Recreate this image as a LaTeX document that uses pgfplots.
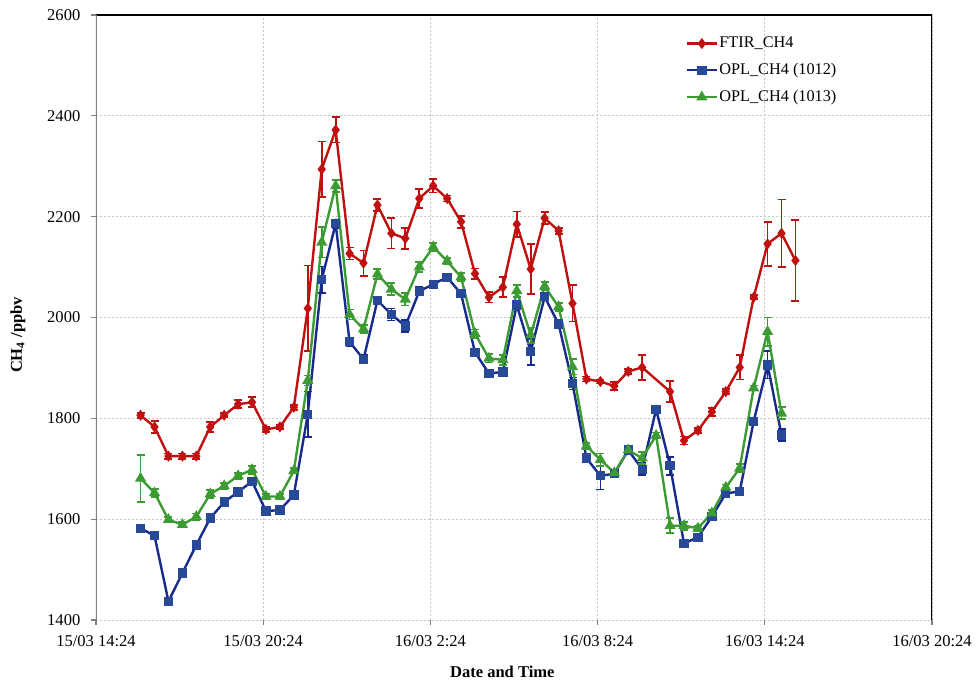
\documentclass[border=0pt]{standalone}
\usepackage{fontspec}
\setmainfont{Liberation Serif}
\usepackage{pgfplots}
\usepackage{pgfplotstable}
\usetikzlibrary{calc}
\pgfplotsset{compat=1.18}
\definecolor{cred}{RGB}{192,16,16}
\definecolor{cblue}{RGB}{24,42,140}
\definecolor{cbluem}{RGB}{40,72,152}
\definecolor{cgreen}{RGB}{60,155,50}

\pgfplotstableread{
x y e
1.6 1806 5
2.1 1783 12
2.6 1725 5
3.1 1725 5
3.6 1725 5
4.1 1783 10
4.6 1806 4
5.1 1828 8
5.6 1832 10
6.1 1778 5
6.6 1783 4
7.1 1822 5
7.6 2018 85
8.1 2294 55
8.6 2372 25
9.1 2127 12
9.6 2108 25
10.1 2223 12
10.6 2167 30
11.1 2157 21
11.6 2236 19
12.1 2261 13
12.6 2236 6
13.1 2190 12
13.6 2087 10
14.1 2040 10
14.6 2060 20
15.1 2185 25
15.6 2096 50
16.1 2197 12
16.6 2172 6
17.1 2028 36
17.6 1878 5
18.1 1873 4
18.6 1864 8
19.1 1893 5
19.6 1901 25
20.6 1853 21
21.1 1756 8
21.6 1776 5
22.1 1813 8
22.6 1853 5
23.1 1901 24
23.6 2040 4
24.1 2146 44
24.6 2167 67
25.1 2113 80
}\ftir

\pgfplotstableread{
x y e
1.6 1582 5
2.1 1567 6
2.6 1437 5
3.1 1493 5
3.6 1549 5
4.1 1602 5
4.6 1634 4
5.1 1654 4
5.6 1675 5
6.1 1616 4
6.6 1618 4
7.1 1648 4
7.6 1808 45
8.1 2075 26
8.6 2186 8
9.1 1952 8
9.6 1917 8
10.1 2034 6
10.6 2006 12
11.1 1983 12
11.6 2052 8
12.1 2066 6
12.6 2080 6
13.1 2047 6
13.6 1931 6
14.1 1889 6
14.6 1892 8
15.1 2025 8
15.6 1932 26
16.1 2041 6
16.6 1987 6
17.1 1869 12
17.6 1721 6
18.1 1686 27
18.6 1690 5
19.1 1737 5
19.6 1699 12
20.1 1818 5
20.6 1706 18
21.1 1552 5
21.6 1564 5
22.1 1605 6
22.6 1651 5
23.1 1655 6
23.6 1794 5
24.1 1906 27
24.6 1767 12
}\oplA

\pgfplotstableread{
x y e
1.6 1681 47
2.1 1652 8
2.6 1599 5
3.1 1589 5
3.6 1605 6
4.1 1650 8
4.6 1666 6
5.1 1686 6
5.6 1698 8
6.1 1645 5
6.6 1645 5
7.1 1696 5
7.6 1875 10
8.1 2149 30
8.6 2261 12
9.1 2006 10
9.6 1977 8
10.1 2086 10
10.6 2056 12
11.1 2036 12
11.6 2100 10
12.1 2140 8
12.6 2112 6
13.1 2080 8
13.6 1968 8
14.1 1919 8
14.6 1916 10
15.1 2053 12
15.6 1965 15
16.1 2062 8
16.6 2021 8
17.1 1902 15
17.6 1745 6
18.1 1718 12
18.6 1692 5
19.1 1737 5
19.6 1721 12
20.1 1766 6
20.6 1587 15
21.1 1587 8
21.6 1582 5
22.1 1612 6
22.6 1663 6
23.1 1701 8
23.6 1860 5
24.1 1972 28
24.6 1810 12
}\oplB

\begin{document}
\begin{tikzpicture}
\begin{axis}[
  scale only axis,
  width=627pt, height=453.75pt,
  xmin=0, xmax=30, ymin=1400, ymax=2600,
  xtick={0,6,12,18,24,30},
  xticklabels={15/03 14:24,15/03 20:24,16/03 2:24,16/03 8:24,16/03 14:24,16/03 20:24},
  ytick={1400,1600,...,2600},
  /pgf/number format/assume math mode=true,
  /pgf/number format/set thousands separator={},
  tick label style={font=\fontsize{12.4}{14}\selectfont},
  xticklabel style={yshift=-4.5pt},
  yticklabel style={xshift=-4.5pt},
  tick align=outside, tick pos=left,
  major tick length=3.75pt,
  every tick/.style={gray, line width=0.8pt},
  grid=major,
  major grid style={gray!45, line width=0.6pt, dash pattern=on 1.5pt off 1.5pt},
  axis line style={draw=none},
  xlabel={\textbf{Date and Time}},
  ylabel={\textbf{CH\textsubscript{4} /ppbv}},
  label style={font=\fontsize{12.4}{14}\selectfont},
  xlabel style={at={(axis description cs:0.486,-0.086)}, anchor=center},
  ylabel style={at={(axis description cs:-0.0933,0.471)}, anchor=center},
  legend style={at={(axis description cs:0.705,0.966)}, anchor=north west,
    draw=none, fill=none, font=\fontsize{12.2}{14}\selectfont, row sep=8.2pt,
    inner sep=0pt, nodes={inner sep=1pt}},
  legend cell align=left,
  legend image code/.code={\draw[mark repeat=2,mark phase=2] plot coordinates {(0pt,0pt)(11.25pt,0pt)(22.5pt,0pt)};},
]
\addplot[cred, line width=1.8pt, mark=diamond*, mark size=2.7pt,
  mark options={solid, fill=cred},
  error bars/.cd, y dir=both, y explicit,
  error bar style={cred, line width=1.3pt},
  error mark options={cred, line width=1.3pt, mark size=3pt, rotate=90}]
  table[x=x, y=y, y error=e] {\ftir};
\addlegendentry{FTIR\_CH4}
\addplot[cblue, line width=1.8pt, mark=square*, mark size=2.6pt,
  mark options={solid, fill=cbluem, draw=cbluem},
  error bars/.cd, y dir=both, y explicit,
  error bar style={cblue, line width=1.3pt},
  error mark options={cblue, line width=1.3pt, mark size=3pt, rotate=90}]
  table[x=x, y=y, y error=e] {\oplA};
\addlegendentry{OPL\_CH4 (1012)}
\addplot[cgreen, line width=1.8pt, mark=triangle*, mark size=3.1pt,
  mark options={solid, fill=cgreen},
  error bars/.cd, y dir=both, y explicit,
  error bar style={cgreen, line width=1.3pt},
  error mark options={cgreen, line width=1.3pt, mark size=3pt, rotate=90}]
  table[x=x, y=y, y error=e] {\oplB};
\addlegendentry{OPL\_CH4 (1013)}
\draw[black, line width=1.1pt] (rel axis cs:0,1) -- (rel axis cs:1,1) -- (rel axis cs:1,0);
\draw[gray, line width=1.8pt] (rel axis cs:0,0) -- (rel axis cs:0,1);
\coordinate (sw) at (rel axis cs:0,0);
\end{axis}
\pgfresetboundingbox
\useasboundingbox ($(sw)+(-72pt,-47.25pt)$) rectangle ($(sw)+(662.25pt,465pt)$);
\end{tikzpicture}
\end{document}
